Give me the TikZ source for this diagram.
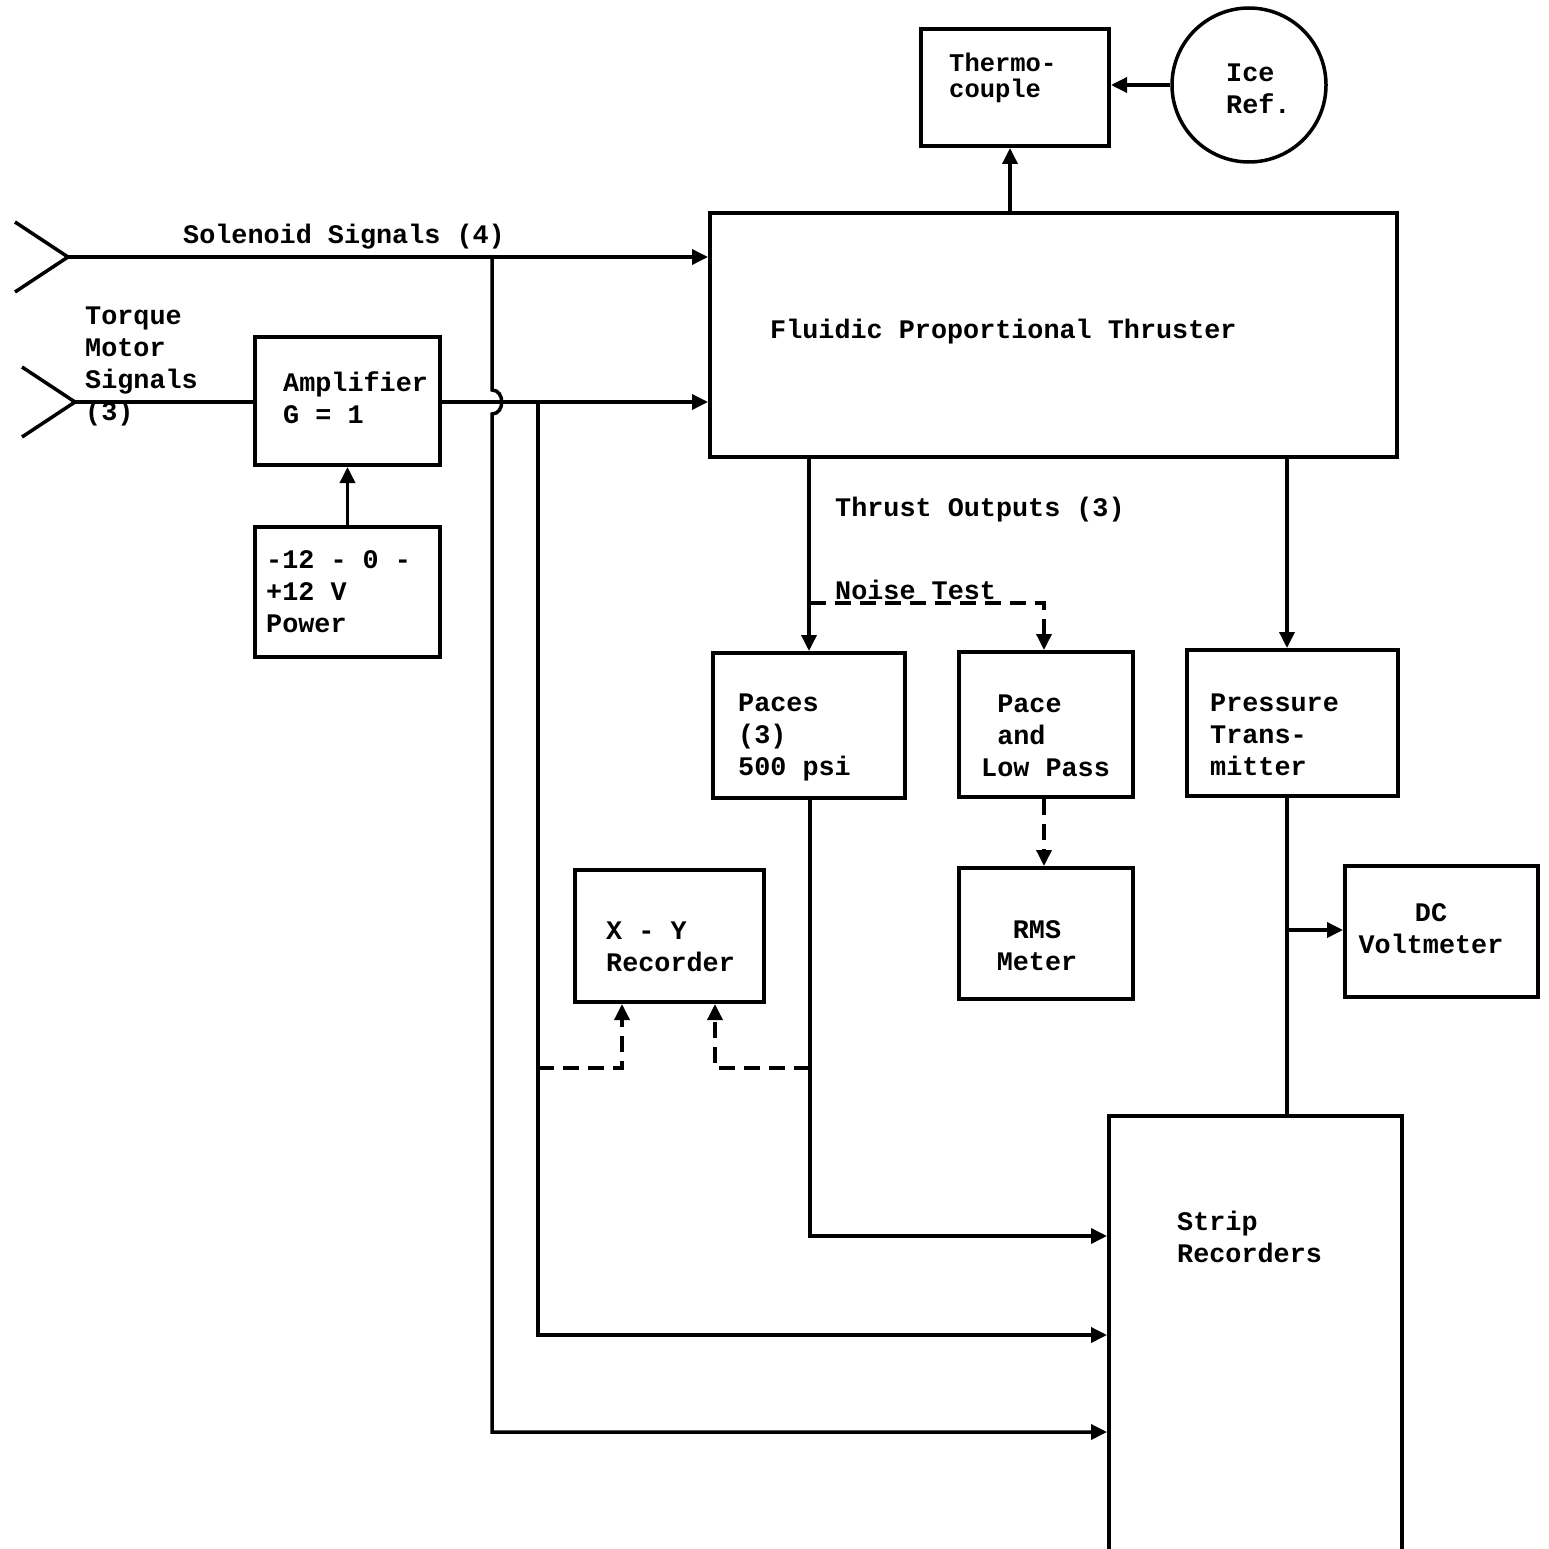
\documentclass[tikz,border=0pt]{standalone}
\usepackage{fontspec}
\setmonofont{Liberation Mono}
\usetikzlibrary{arrows.meta,shapes.geometric}
\begin{document}
\begin{tikzpicture}[x=1pt,y=-1pt,
  box/.style={draw,line width=4pt,rectangle,inner sep=0pt},
  txt/.style={font=\ttfamily\bfseries\fontsize{26.8}{32}\selectfont,align=left,inner sep=0pt,anchor=west},
  ln/.style={line width=3.5pt},
  arr/.style={ln,-{Triangle[length=16pt,width=15pt]}},
  dsh/.style={dash pattern=on 16pt off 9pt}]
\useasboundingbox (0,0) rectangle (1549,1549);
\clip (0,0) rectangle (1549,1549);
\fill[white] (0,0) rectangle (1549,1549);
% boxes
\node[box,minimum width=188pt,minimum height=117pt] (thermo) at (1015,87.5) {};
\node[draw,line width=3.5pt,circle,minimum size=154pt,inner sep=0pt] (ice) at (1249,85) {};
\node[box,minimum width=687pt,minimum height=244pt] (fpt) at (1053.5,335) {};
\node[box,minimum width=185pt,minimum height=128pt] (amp) at (347.5,401) {};
\node[box,minimum width=185pt,minimum height=130pt] (pow) at (347.5,592) {};
\node[box,minimum width=192pt,minimum height=145pt] (paces) at (809,725.5) {};
\node[box,minimum width=174pt,minimum height=145pt] (plp) at (1046,724.5) {};
\node[box,minimum width=211pt,minimum height=146pt] (press) at (1292.5,723) {};
\node[box,minimum width=174pt,minimum height=131pt] (rms) at (1046,933.5) {};
\node[box,minimum width=189pt,minimum height=132pt] (xy) at (669.5,936) {};
\node[box,minimum width=193pt,minimum height=131pt] (dc) at (1441.5,931.5) {};
\node[box,minimum width=293pt,minimum height=480pt,anchor=north west] (strip) at (1107,1114) {};
% texts
\node[txt,font=\ttfamily\bfseries\fontsize{25.5}{26}\selectfont] (thermoT) at (949,78) {Thermo-\\couple};
\node[txt] (iceT) at (1226,89) {Ice\\Ref.};
\node[txt] (solT) at (183,237) {Solenoid Signals (4)};
\node[txt] (fptT) at (770,332) {Fluidic Proportional Thruster};
\node[txt] (torT) at (85,366) {Torque\\Motor\\Signals\\(3)};
\node[txt] (ampT) at (283,398) {Amplifier\\G = 1};
\node[txt] (powT) at (266,592) {-12 - 0 -\\+12 V\\Power};
\node[txt] (thrT) at (835,510) {Thrust Outputs (3)};
\node[txt] (noiT) at (835,590) {Noise Test};
\node[txt] (pacT) at (738,737) {Paces\\(3)\\500 psi};
\node[txt] (plpT) at (981,736) {\hspace*{0.6em}Pace\\\hspace*{0.6em}and\\Low Pass};
\node[txt] (preT) at (1210,735) {Pressure\\Trans-\\mitter};
\node[txt,align=center,anchor=center] (rmsT) at (1037,946) {RMS\\Meter};
\node[txt] (xyT) at (606,947) {X - Y\\Recorder};
\node[txt,align=center,anchor=center] (dcT) at (1431,929) {DC\\Voltmeter};
\node[txt] (strT) at (1177,1237) {Strip\\Recorders};
% inputs
\coordinate (solin) at (68,257);
\coordinate (torin) at (75,402);
\draw[ln] (15,222) -- (solin) -- (15,292);
\draw[ln] (22,367) -- (torin) -- (22,437);
\draw[arr] (solin) -- (solin -| fpt.west);
\draw[ln] (torin) -- (torin -| amp.west);
\draw[arr] (amp.east |- torin) -- (fpt.west |- torin);
\draw[arr] (pow.north) -- (amp.south);
% top
\draw[arr] (ice.west) -- (thermo.east |- ice.west);
\draw[arr] (fpt.north -| 1010,0) -- (thermo.south -| 1010,0);
% solenoid branch with jump
\coordinate (j1) at (492,257);
\draw[arr] (j1) -- (492,390) .. controls (505,390) and (505,414) .. (492,414) -- (492,1432) -- (strip.west |- 0,1432);
% amplifier branch
\coordinate (j2) at (538,402);
\draw[arr] (j2) -- (538,1335) -- (strip.west |- 0,1335);
\draw[arr,dsh] (538,1068) -| (xy.south -| 622,0);
% thrust outputs
\draw[arr] (paces.north |- fpt.south) -- (paces.north);
\draw[arr,dsh] (810,603) -| (plp.north -| 1044,0);
\draw[arr] (fpt.south -| 1287,0) -- (press.north -| 1287,0);
\draw[arr] (paces.south -| 810,0) |- (strip.west |- 0,1236);
\draw[arr,dsh] (810,1068) -| (xy.south -| 715,0);
\draw[arr,dsh] (plp.south -| 1044,0) -- (rms.north -| 1044,0);
\draw[ln] (press.south -| 1287,0) -- (strip.north -| 1287,0);
\draw[arr] (1287,930) -- (dc.west |- 0,930);
\end{tikzpicture}
\end{document}
